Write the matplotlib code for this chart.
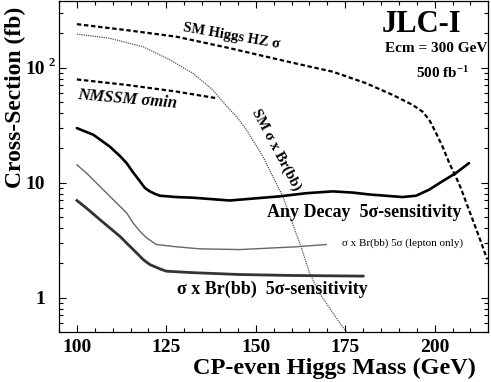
import matplotlib
matplotlib.use("Agg")
import matplotlib.pyplot as plt
from matplotlib.ticker import FixedLocator, LogLocator, NullFormatter, FixedFormatter

plt.rcParams['font.family'] = ['Liberation Serif', 'DejaVu Serif']
plt.rcParams['mathtext.fontset'] = 'custom'
plt.rcParams['mathtext.rm'] = 'Liberation Serif'
plt.rcParams['mathtext.bf'] = 'Liberation Serif:bold'
plt.rcParams['mathtext.it'] = 'Liberation Serif:italic'

# ---- data ----
hz_mass = [100, 113.9, 127.8, 141.8, 155.7, 162.2, 171.5, 180.8, 188.3, 193.8, 196.6, 198.5,
           200.4, 202.2, 204.1, 205.9, 207.3, 209.6, 212.4, 214.7]
hz_xsec = [239, 212, 186, 150, 119, 107, 92.3, 73.3, 57.9, 47.5, 41.5, 35.2,
           27.0, 20.6, 14.8, 11.3, 9.0, 5.8, 3.4, 2.15]

nmssm_mass = [100, 113.9, 127.8, 139.0]
nmssm_xsec = [79, 70.8, 62, 54.3]

smbb_mass = [100, 109.2, 118.5, 126.0, 132.5, 138.0, 141.8, 144.6, 147.4, 152.0, 155.7, 157.6,
             160.4, 162.7, 165.0, 167.8, 171.5, 174.8, 175.6]
smbb_xsec = [196, 180, 152, 117, 89, 64, 46.5, 37.6, 28.8, 16.9, 9.9, 7.6,
             4.3, 2.75, 1.65, 1.10, 0.74, 0.53, 0.50]

any_mass = [100, 104.6, 109.2, 112.0, 113.9, 115.7, 117.6, 119.0, 120.4, 121.8, 123.2, 127.8,
            132.5, 142.7, 156.6, 164.1, 171.5, 177.1, 181.7, 191.0, 194.8, 198.5, 202.2,
            205.9, 209.6]
any_xsec = [29.8, 26.1, 20.6, 17.1, 14.8, 12.3, 10.3, 9.0, 8.4, 8.0, 7.7, 7.5,
            7.4, 7.0, 7.6, 8.1, 8.4, 8.2, 7.9, 7.5, 7.7, 8.7, 10.3,
            12.1, 14.8]

lep_mass = [100, 102.7, 106.4, 111.0, 113.9, 115.7, 117.6, 119.5, 122.2, 127.8, 134.3, 145.5,
            161.3, 169.7]
lep_xsec = [14.3, 12.1, 9.3, 6.7, 5.46, 4.47, 3.78, 3.31, 2.9, 2.77, 2.66, 2.62,
            2.77, 2.90]

bb_mass = [100, 102.7, 106.4, 112.0, 114.8, 116.7, 118.5, 120.4, 123.2, 125.0, 132.5, 145.5,
           160.0, 180.0]
bb_xsec = [7.0, 6.0, 4.78, 3.42, 2.80, 2.45, 2.15, 1.94, 1.78, 1.70, 1.65, 1.59,
           1.56, 1.54]

xticks = [100, 125, 150, 175, 200]
xticklabels = ['100', '125', '150', '175', '200']
yticks = [1, 10, 100]
yticklabels = ['1', '10', '10']

# ---- figure ----
fig = plt.figure(figsize=(4.91, 3.82), dpi=100)
ax = fig.add_axes([59/491, 1-332.3/382, (488.3-59)/491, (332.3-1)/382])
ax.set_yscale('log')
ax.set_xlim(95, 215)
ax.set_ylim(0.5, 380)

l, = ax.plot(hz_mass, hz_xsec, color='black', lw=1.6)
l.set_dashes((2.0, 1.2))
l, = ax.plot(nmssm_mass, nmssm_xsec, color='black', lw=1.6)
l.set_dashes((2.0, 1.2))
ax.plot(smbb_mass, smbb_xsec, color='#555555', lw=0.9, linestyle=(0, (1, 0.8)))
ax.plot(any_mass, any_xsec, color='black', lw=1.9, solid_capstyle='round', solid_joinstyle='round')
ax.plot(lep_mass, lep_xsec, color='#666666', lw=1.0, solid_joinstyle='round')
ax.plot(bb_mass, bb_xsec, color='#333333', lw=2.0, solid_joinstyle='round')

ax.xaxis.set_major_locator(FixedLocator(xticks))
ax.xaxis.set_major_formatter(FixedFormatter(xticklabels))
ax.xaxis.set_minor_locator(FixedLocator(list(range(95, 216, 5))))
ax.yaxis.set_major_locator(FixedLocator(yticks))
ax.yaxis.set_major_formatter(FixedFormatter(yticklabels))
ax.yaxis.set_minor_locator(LogLocator(base=10, subs=range(2, 10)))
ax.yaxis.set_minor_formatter(NullFormatter())

ax.tick_params(which='both', direction='in', top=True, right=True, width=0.8, colors='black')
ax.tick_params(which='major', length=5)
ax.tick_params(which='minor', length=3)
ax.tick_params(axis='x', which='major', pad=5, labelsize=14)
ax.tick_params(axis='y', which='major', pad=10, labelsize=14)
for lab in ax.get_xticklabels() + ax.get_yticklabels():
    lab.set_fontweight('bold')
for s in ax.spines.values():
    s.set_linewidth(0.9)

# superscript of the 10^2 tick label
fig.text(51.5/491, 1-62.5/382, '2', fontsize=9, fontweight='bold', ha='center', va='center')

# ---- annotations ----
ax.text(143.3, 188, 'SM Higgs HZ σ', fontsize=10.5, fontweight='bold', rotation=-10,
        ha='center', va='center')
ax.text(114.2, 52.5, 'NMSSM σmin', fontsize=12, fontweight='bold', style='italic', rotation=-5,
        ha='center', va='center')
ax.text(155.7, 19.3, 'SM σ x Br(bb)', fontsize=10.5, fontweight='bold', rotation=-62,
        ha='center', va='center')
ax.text(180.4, 5.49, 'Any Decay  5σ-sensitivity', fontsize=13, fontweight='bold',
        ha='center', va='center')
ax.text(191.0, 2.96, 'σ x Br(bb) 5σ (lepton only)', fontsize=8,
        ha='center', va='center')
ax.text(154.7, 1.18, 'σ x Br(bb)  5σ-sensitivity', fontsize=13, fontweight='bold',
        ha='center', va='center')

fig.text(421.7/491, 1-24/382, 'JLC-I', fontsize=22, fontweight='bold', ha='center', va='center')
fig.text(436/491, 1-49/382, 'Ecm = 300 GeV', fontsize=11, fontweight='bold', ha='center', va='center')
fig.text(443/491, 1-73/382, r'500 fb$^{\mathbf{-1}}$', fontsize=11, fontweight='bold', ha='center', va='center')

fig.text(15/491, 1-97/382, 'Cross-Section (fb)', fontsize=17, fontweight='bold', rotation=90,
         ha='center', va='center')
fig.text(334/491, 1-368/382, 'CP-even Higgs Mass (GeV)', fontsize=17.5, fontweight='bold',
         ha='center', va='center')

fig.savefig('out.png', dpi=100)
